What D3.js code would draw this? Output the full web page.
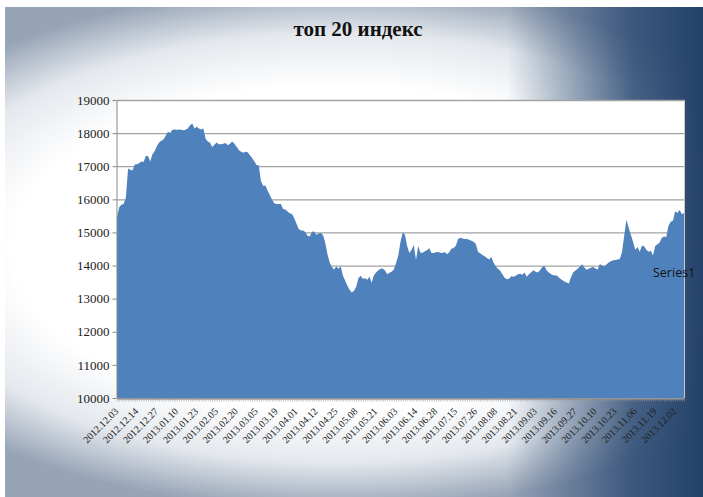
<!DOCTYPE html>
<html lang="ru">
<head>
  <meta charset="UTF-8" />
  <title>топ 20 индекс</title>
  <script src="https://cdn.jsdelivr.net/npm/d3@7"></script>
  <style>
    body { margin: 0; background: #fff; }
    svg { display: block; }
  </style>
</head>
<body>
<div id="chart"></div>
<script>
// index values, one per trading day
const values = [
  15450, 15760, 15840, 15860, 16050, 16930, 16890, 16870, 17050, 17060,
  17090, 17140, 17130, 17310, 17310, 17140, 17360, 17450, 17600, 17720,
  17770, 17810, 17920, 18040, 18000, 18100, 18110, 18100, 18110, 18100,
  18090, 18100, 18150, 18240, 18290, 18140, 18190, 18140, 18110, 18140,
  17830, 17750, 17710, 17580, 17650, 17720, 17660, 17660, 17680, 17700,
  17630, 17680, 17750, 17680, 17590, 17490, 17440, 17410, 17440, 17420,
  17330, 17250, 17150, 17040, 17020, 16550, 16400, 16420, 16260, 16130,
  15990, 15880, 15860, 15860, 15860, 15710, 15690, 15630, 15580, 15560,
  15440, 15270, 15110, 15060, 15060, 15010, 14900, 14880, 15020, 15030,
  14930, 14970, 14980, 14920, 14700, 14350, 14100, 13960, 13880, 13970,
  13900, 13980, 13700, 13550, 13390, 13270, 13190, 13240, 13360, 13620,
  13690, 13600, 13620, 13570, 13660, 13480, 13710, 13790, 13860, 13900,
  13910, 13850, 13740, 13780, 13810, 13880, 14080, 14300, 14720, 15000,
  14930, 14590, 14380, 14480, 14620, 14170, 14590, 14390, 14390, 14430,
  14460, 14520, 14380, 14380, 14400, 14410, 14390, 14380, 14410, 14340,
  14400, 14510, 14530, 14600, 14800, 14840, 14820, 14800, 14800, 14780,
  14750, 14720, 14650, 14410, 14370, 14320, 14280, 14230, 14180, 14260,
  14090, 13970, 13900, 13840, 13740, 13630, 13590, 13600, 13680, 13660,
  13690, 13740, 13750, 13720, 13790, 13660, 13740, 13800, 13860, 13810,
  13790, 13860, 13960, 13990, 13850, 13790, 13740, 13710, 13710, 13680,
  13610, 13560, 13520, 13490, 13460, 13650, 13800, 13850, 13900, 13970,
  14040, 13940, 13870, 13900, 13930, 13960, 13910, 13880, 14050, 14000,
  13980, 14030, 14090, 14130, 14160, 14170, 14180, 14200, 14400, 14900,
  15380, 15150, 14930, 14720, 14480, 14560, 14420, 14600, 14580, 14480,
  14420, 14450, 14300, 14590, 14640, 14700, 14840, 14880, 14860, 15200,
  15320, 15350, 15640, 15590, 15680, 15560, 15580
];

// date labels, shown every 9th trading day
const dateLabels = [
  "2012.12.03", "2012.12.14", "2012.12.27", "2013.01.10", "2013.01.23",
  "2013.02.05", "2013.02.20", "2013.03.05", "2013.03.19", "2013.04.01",
  "2013.04.12", "2013.04.25", "2013.05.08", "2013.05.21", "2013.06.03",
  "2013.06.14", "2013.06.28", "2013.07.15", "2013.07.26", "2013.08.08",
  "2013.08.21", "2013.09.03", "2013.09.16", "2013.09.27", "2013.10.10",
  "2013.10.23", "2013.11.06", "2013.11.19", "2013.12.02"
];
const labelStep = 9;

const yTicks = [10000, 11000, 12000, 13000, 14000, 15000, 16000, 17000, 18000, 19000];

const W = 703, H = 497;
const plot = { left: 117, right: 684, top: 100, bottom: 398 };

const svg = d3.select("#chart").append("svg")
  .attr("width", W)
  .attr("height", H);

const defs = svg.append("defs");

// wide white centre fading to grey-blue at top, bottom and corners
const bg = defs.append("radialGradient")
  .attr("id", "bgGrad")
  .attr("gradientUnits", "userSpaceOnUse")
  .attr("cx", 0).attr("cy", 0).attr("r", 1)
  .attr("gradientTransform", "translate(335,248) scale(520,262)");
bg.append("stop").attr("offset", "0%").attr("stop-color", "#ffffff");
bg.append("stop").attr("offset", "62%").attr("stop-color", "#ffffff");
bg.append("stop").attr("offset", "82%").attr("stop-color", "#e4e8ed");
bg.append("stop").attr("offset", "94%").attr("stop-color", "#b0bac8");
bg.append("stop").attr("offset", "100%").attr("stop-color", "#97a4b8");

// dark navy on the right side
const side = defs.append("linearGradient")
  .attr("id", "sideGrad")
  .attr("x1", "0%").attr("x2", "100%").attr("y1", "0%").attr("y2", "0%");
side.append("stop").attr("offset", "0%").attr("stop-color", "#2b4a72").attr("stop-opacity", 0);
side.append("stop").attr("offset", "72%").attr("stop-color", "#2b4a72").attr("stop-opacity", 0);
side.append("stop").attr("offset", "90%").attr("stop-color", "#2b4a72").attr("stop-opacity", 0.85);
side.append("stop").attr("offset", "100%").attr("stop-color", "#24416a").attr("stop-opacity", 1);

svg.append("rect")
  .attr("x", 5).attr("y", 7)
  .attr("width", W - 5).attr("height", H - 7)
  .attr("fill", "url(#bgGrad)");

svg.append("rect")
  .attr("x", 5).attr("y", 7)
  .attr("width", W - 5).attr("height", H - 7)
  .attr("fill", "url(#sideGrad)");

// plot area
svg.append("rect")
  .attr("x", plot.left).attr("y", plot.top)
  .attr("width", plot.right - plot.left)
  .attr("height", plot.bottom - plot.top)
  .attr("fill", "#ffffff");

const x = d3.scaleLinear()
  .domain([0, values.length - 1])
  .range([plot.left, plot.right]);

const y = d3.scaleLinear()
  .domain([10000, 19000])
  .range([plot.bottom, plot.top]);

// gridlines
svg.append("g")
  .attr("transform", `translate(${plot.left},0)`)
  .call(d3.axisLeft(y).tickValues(yTicks).tickSize(-(plot.right - plot.left)).tickFormat(""))
  .call(g => g.select(".domain").remove())
  .call(g => g.selectAll("line").attr("stroke", "#a3a3a3").attr("stroke-width", 1.3));

// area
const area = d3.area()
  .x((d, i) => x(i))
  .y0(y(10000))
  .y1(d => y(d));

svg.append("path")
  .datum(values)
  .attr("fill", "#4f81bd")
  .attr("d", area);

// right edge of plot
svg.append("line")
  .attr("x1", plot.right + 0.5).attr("x2", plot.right + 0.5)
  .attr("y1", plot.top).attr("y2", plot.bottom)
  .attr("stroke", "#c8c8c8");

// y axis
svg.append("g")
  .attr("transform", `translate(${plot.left - 0.5},0)`)
  .call(d3.axisLeft(y).tickValues(yTicks).tickFormat(d3.format("d")).tickSize(4).tickPadding(3).tickSizeOuter(0))
  .call(g => g.select(".domain").attr("stroke", "#868686"))
  .call(g => g.selectAll("line").attr("stroke", "#868686"))
  .call(g => g.selectAll("text")
    .attr("font-family", "'Liberation Serif', 'Times New Roman', serif")
    .attr("font-size", 13)
    .attr("fill", "#222"));

// x axis with a tick per trading day
svg.append("g")
  .attr("transform", `translate(0,${plot.bottom + 0.5})`)
  .call(d3.axisBottom(x).tickValues(d3.range(values.length)).tickSize(3).tickSizeOuter(0).tickFormat(""))
  .call(g => g.select(".domain").attr("stroke", "#868686"))
  .call(g => g.selectAll("line").attr("stroke", "#9a9a9a").attr("stroke-width", 0.6));

svg.append("g")
  .selectAll("text")
  .data(dateLabels)
  .join("text")
  .attr("transform", (d, i) => `translate(${x(i * labelStep) + 2},${plot.bottom + 14}) rotate(-45)`)
  .attr("text-anchor", "end")
  .attr("font-family", "'Liberation Serif', 'Times New Roman', serif")
  .attr("font-size", 10)
  .attr("fill", "#222")
  .text(d => d);

// title
svg.append("text")
  .attr("x", 358)
  .attr("y", 36)
  .attr("text-anchor", "middle")
  .attr("font-family", "'Liberation Serif', 'Times New Roman', serif")
  .attr("font-weight", "bold")
  .attr("font-size", 21)
  .attr("fill", "#111")
  .text("топ 20 индекс");

// legend
svg.append("text")
  .attr("x", 653)
  .attr("y", 277)
  .attr("font-family", "'Open Sans', 'Liberation Sans', sans-serif")
  .attr("font-size", 12.5)
  .attr("fill", "#111")
  .text("Series1");
</script>
</body>
</html>
